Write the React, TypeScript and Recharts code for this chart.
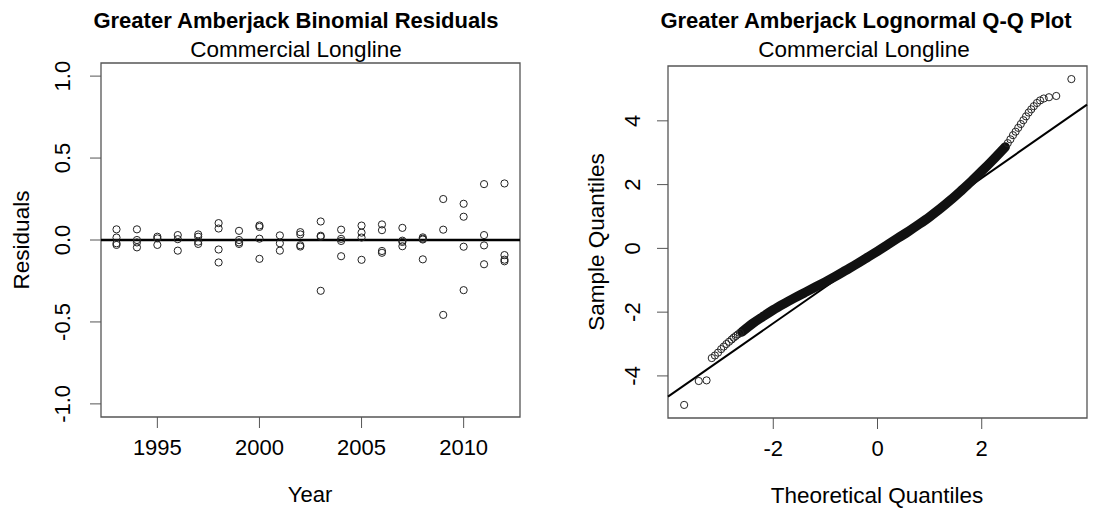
import React from 'react';
import { ScatterChart, ComposedChart, Scatter, Line, XAxis, YAxis, ReferenceLine, ReferenceArea } from 'recharts';

// left panel: binomial residuals by year
const years = [1993, 1994, 1995, 1996, 1997, 1998, 1999, 2000, 2001, 2002, 2003, 2004, 2005, 2006, 2007, 2008, 2009, 2010, 2011, 2012];
const residualsByYear = [
  [0.065, 0.015, -0.02, -0.03],
  [0.065, 0.0, -0.015, -0.045],
  [0.02, 0.01, -0.03],
  [0.03, 0.005, -0.065],
  [0.034, 0.02, -0.01, -0.024],
  [0.103, 0.07, -0.058, -0.137],
  [0.056, 0.0, -0.015, -0.024],
  [0.089, 0.08, 0.008, -0.115],
  [0.028, -0.02, -0.065],
  [0.048, 0.034, -0.032, -0.04],
  [0.113, 0.026, 0.02, -0.31],
  [0.063, 0.007, -0.006, -0.099],
  [0.088, 0.045, 0.015, -0.121],
  [0.095, 0.06, -0.067, -0.078],
  [0.074, -0.004, -0.012, -0.038],
  [0.016, 0.008, 0.003, -0.118],
  [0.25, 0.063, -0.457],
  [0.221, 0.142, -0.041, -0.306],
  [0.341, 0.03, -0.033, -0.148],
  [0.345, -0.092, -0.12, -0.13],
];
const yearTicks = [1995, 2000, 2005, 2010];
const residualTicks = [-1, -0.5, 0, 0.5, 1];

// right panel: Q-Q plot (sparse tails are single circles, the dense middle is a band)
const lowTailX = [-3.71, -3.43, -3.28, -3.18, -3.12, -3.06, -3.0, -2.95, -2.9, -2.85, -2.8, -2.76, -2.72, -2.68, -2.64];
const lowTailY = [-4.91, -4.16, -4.14, -3.44, -3.36, -3.27, -3.16, -3.08, -3.0, -2.93, -2.86, -2.8, -2.75, -2.7, -2.65];
const bandX = [-2.6, -2.4, -2.2, -2.0, -1.8, -1.6, -1.4, -1.2, -1.0, -0.8, -0.6, -0.4, -0.2, 0, 0.2, 0.4, 0.6, 0.8, 1.0, 1.2, 1.4, 1.6, 1.8, 2.0, 2.2, 2.45];
const bandY = [-2.62, -2.36, -2.14, -1.93, -1.74, -1.56, -1.39, -1.22, -1.05, -0.87, -0.68, -0.49, -0.29, -0.09, 0.12, 0.33, 0.54, 0.76, 0.99, 1.24, 1.51, 1.8, 2.1, 2.42, 2.75, 3.18];
const highTailX = [2.5, 2.55, 2.6, 2.65, 2.7, 2.75, 2.8, 2.85, 2.9, 2.95, 3.0, 3.06, 3.12, 3.19, 3.29, 3.43, 3.72];
const highTailY = [3.3, 3.42, 3.55, 3.66, 3.78, 3.9, 4.02, 4.14, 4.26, 4.36, 4.46, 4.56, 4.64, 4.7, 4.74, 4.78, 5.31];
const qqLineX = [-4.02, 4.02];
const qqLineY = [-4.65, 4.51];
const qqXTicks = [-2, 0, 2];
const qqYTicks = [-4, -2, 0, 2, 4];

const resXDomain = [1992.24, 2012.76];
const resYDomain = [-1.08, 1.08];
const qqXDomain = [-4.02, 4.02];
const qqYDomain = [-5.32, 5.72];

const FONT = '"Liberation Sans", Arial, Helvetica, sans-serif';
const FRAME = '#555';

const residualData = years.flatMap((yr, i) => residualsByYear[i].map(v => ({ x: yr, y: v })));
const zip = (xs: number[], ys: number[]) => xs.map((x, i) => ({ x, y: ys[i] }));
const lowTail = zip(lowTailX, lowTailY);
const band = zip(bandX, bandY);
const highTail = zip(highTailX, highTailY);
const qqLine = zip(qqLineX, qqLineY);

const OpenCircle = (props: any) => (
  <circle cx={props.cx} cy={props.cy} r={3.6} fill="none" stroke="#222" strokeWidth={1} />
);

const makeYTick = (fmt: (v: number) => string) => (props: any) => {
  const { x, y, payload } = props;
  return (
    <text x={x} y={y} transform={`rotate(-90 ${x} ${y})`} textAnchor="middle" fontSize={22} fontFamily={FONT} fill="#000">
      {fmt(payload.value)}
    </text>
  );
};

const xTickStyle = { fontSize: 22, fontFamily: FONT, fill: '#000' };

export default function App() {
  return (
    <div style={{ position: 'absolute', left: 0, top: 0, width: 1102, height: 512, background: '#fff' }}>
      <div style={{ position: 'absolute', left: 0, top: 0 }}>
        <ScatterChart width={551} height={512} margin={{ top: 63, right: 31, bottom: 55, left: 0 }}>
          <XAxis type="number" dataKey="x" domain={resXDomain} ticks={yearTicks} height={40}
            tickSize={11} tickMargin={11} axisLine={false} tickLine={{ stroke: FRAME }} tick={xTickStyle} />
          <YAxis type="number" dataKey="y" domain={resYDomain} ticks={residualTicks} width={101}
            tickSize={11} tickMargin={20} axisLine={false} tickLine={{ stroke: FRAME }}
            tick={makeYTick(v => v.toFixed(1))} />
          <ReferenceArea x1={resXDomain[0]} x2={resXDomain[1]} y1={resYDomain[0]} y2={resYDomain[1]}
            fill="none" stroke={FRAME} strokeWidth={1.3} fillOpacity={0} ifOverflow="visible" />
          <ReferenceLine y={0} stroke="#000" strokeWidth={2.5} />
          <Scatter data={residualData} shape={OpenCircle} isAnimationActive={false} />
        </ScatterChart>
      </div>
      <div style={{ position: 'absolute', left: 551, top: 0 }}>
        <ComposedChart width={551} height={512} margin={{ top: 66, right: 15, bottom: 54, left: 0 }}>
          <XAxis type="number" dataKey="x" domain={qqXDomain} ticks={qqXTicks} height={40}
            tickSize={11} tickMargin={11} axisLine={false} tickLine={{ stroke: FRAME }} tick={xTickStyle} />
          <YAxis type="number" dataKey="y" domain={qqYDomain} ticks={qqYTicks} width={117}
            tickSize={11} tickMargin={17} axisLine={false} tickLine={{ stroke: FRAME }}
            tick={makeYTick(v => String(v))} />
          <ReferenceArea x1={qqXDomain[0]} x2={qqXDomain[1]} y1={qqYDomain[0]} y2={qqYDomain[1]}
            fill="none" stroke={FRAME} strokeWidth={1.3} fillOpacity={0} ifOverflow="visible" />
          <Line data={qqLine} dataKey="y" type="linear" stroke="#000" strokeWidth={2} dot={false} isAnimationActive={false} />
          <Line data={band} dataKey="y" type="monotone" stroke="#111" strokeWidth={9.5} strokeLinecap="round"
            dot={false} isAnimationActive={false} />
          <Scatter data={lowTail} dataKey="y" shape={OpenCircle} isAnimationActive={false} />
          <Scatter data={highTail} dataKey="y" shape={OpenCircle} isAnimationActive={false} />
        </ComposedChart>
      </div>
      <svg width={1102} height={512} style={{ position: 'absolute', left: 0, top: 0, pointerEvents: 'none' }}
        fontFamily={FONT} fill="#000">
        <text x={296} y={28} textAnchor="middle" fontSize={22} fontWeight="bold">Greater Amberjack Binomial Residuals</text>
        <text x={296} y={57} textAnchor="middle" fontSize={22.5}>Commercial Longline</text>
        <text x={866} y={28} textAnchor="middle" fontSize={22} fontWeight="bold">Greater Amberjack Lognormal Q-Q Plot</text>
        <text x={864} y={57} textAnchor="middle" fontSize={22.5}>Commercial Longline</text>
        <text x={310} y={502} textAnchor="middle" fontSize={22}>Year</text>
        <text x={877} y={503} textAnchor="middle" fontSize={22.5}>Theoretical Quantiles</text>
        <text x={29} y={240} transform="rotate(-90 29 240)" textAnchor="middle" fontSize={22.5}>Residuals</text>
        <text x={604} y={242} transform="rotate(-90 604 242)" textAnchor="middle" fontSize={22.5}>Sample Quantiles</text>
      </svg>
    </div>
  );
}
